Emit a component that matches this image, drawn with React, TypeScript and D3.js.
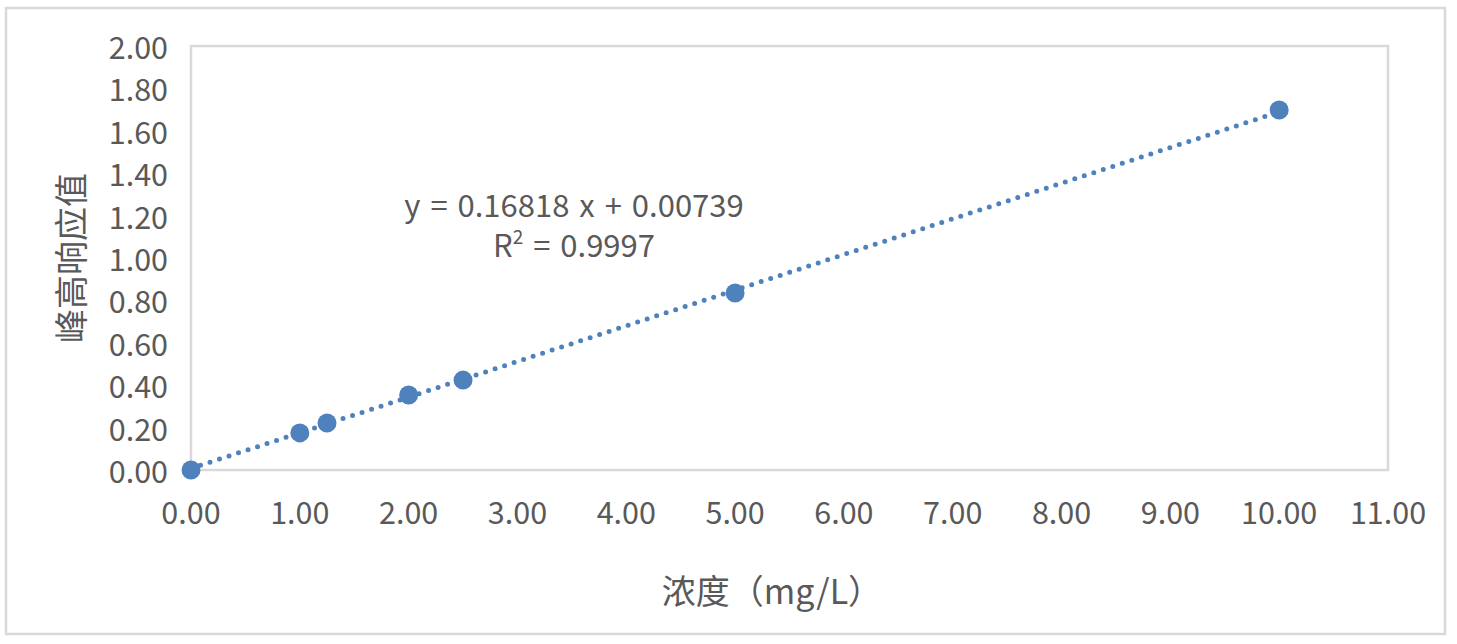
import * as d3 from 'd3';

// concentration (mg/L) and peak height response
const concentrations = [0, 1, 1.25, 2, 2.5, 5, 10];
const responses = [0, 0.175, 0.222, 0.354, 0.424, 0.835, 1.698];

const slope = 0.16818;
const intercept = 0.00739;
const equationText = 'y = 0.16818 x + 0.00739';
const r2Text = '0.9997';

const xTicks = [0, 1, 2, 3, 4, 5, 6, 7, 8, 9, 10, 11];
const yTicks = [0, 0.2, 0.4, 0.6, 0.8, 1.0, 1.2, 1.4, 1.6, 1.8, 2.0];

const xTitle = '浓度（mg/L）';
const yTitle = '峰高响应值';

const W = 1457;
const H = 644;
const margin = { top: 46, right: 69, bottom: 174, left: 191 };
const font = '"Noto Sans CJK SC", "Noto Sans", sans-serif';
const textColor = '#595959';
const gridColor = '#d9d9d9';
const blue = '#4f81bd';

export default function App(): JSX.Element {
  const x = d3.scaleLinear()
    .domain([0, 11])
    .range([margin.left, W - margin.right]);

  const y = d3.scaleLinear()
    .domain([0, 2])
    .range([H - margin.bottom, margin.top]);

  const fitX = [0, d3.max(concentrations) as number];
  const trend = d3.line<number>()
    .x(d => x(d))
    .y(d => y(slope * d + intercept));

  const points = concentrations.map((c, i) => ({ c, r: responses[i] }));

  return (
    <svg
      width={W}
      height={H}
      style={{ position: 'absolute', left: 0, top: 0, background: '#fff' }}
      fontFamily={font}
    >
      {/* chart frame */}
      <rect x={6} y={8} width={1439} height={626} fill="#fff" stroke={gridColor} strokeWidth={2.5} />

      {/* plot area */}
      <rect
        x={x(0)}
        y={y(2)}
        width={x(11) - x(0)}
        height={y(0) - y(2)}
        fill="none"
        stroke={gridColor}
        strokeWidth={2.5}
      />

      {/* y ticks */}
      <g className="y-axis">
        {yTicks.map(t => (
          <text
            key={t}
            x={margin.left - 23}
            y={y(t)}
            textAnchor="end"
            dominantBaseline="central"
            fontSize={30.5}
            fill={textColor}
          >
            {t.toFixed(2)}
          </text>
        ))}
      </g>

      {/* x ticks */}
      <g className="x-axis">
        {xTicks.map(t => (
          <text
            key={t}
            x={x(t)}
            y={y(0) + 41}
            textAnchor="middle"
            dominantBaseline="central"
            fontSize={30.5}
            fill={textColor}
          >
            {t.toFixed(2)}
          </text>
        ))}
      </g>

      {/* trendline */}
      <path
        d={trend(fitX) || ''}
        fill="none"
        stroke={blue}
        strokeWidth={5}
        strokeDasharray="0 10"
        strokeLinecap="round"
      />

      {/* points */}
      {points.map((p, i) => (
        <circle key={i} cx={x(p.c)} cy={y(p.r)} r={9.5} fill={blue} />
      ))}

      {/* equation label, two lines in one text block */}
      <text textAnchor="middle" fontSize={31} wordSpacing={3} fill={textColor}>
        <tspan x={574} y={217}>{equationText}</tspan>
        <tspan x={574} y={257}>
          R<tspan fontSize={19} baselineShift="super">2</tspan> = {r2Text}
        </tspan>
      </text>

      {/* axis titles */}
      <text
        x={772}
        y={589}
        textAnchor="middle"
        dominantBaseline="central"
        fontSize={34}
        fill={textColor}
      >
        {xTitle}
      </text>
      <text
        transform={`translate(69,${(y(0) + y(2)) / 2}) rotate(-90)`}
        textAnchor="middle"
        dominantBaseline="central"
        fontSize={34}
        fill={textColor}
      >
        {yTitle}
      </text>
    </svg>
  );
}
